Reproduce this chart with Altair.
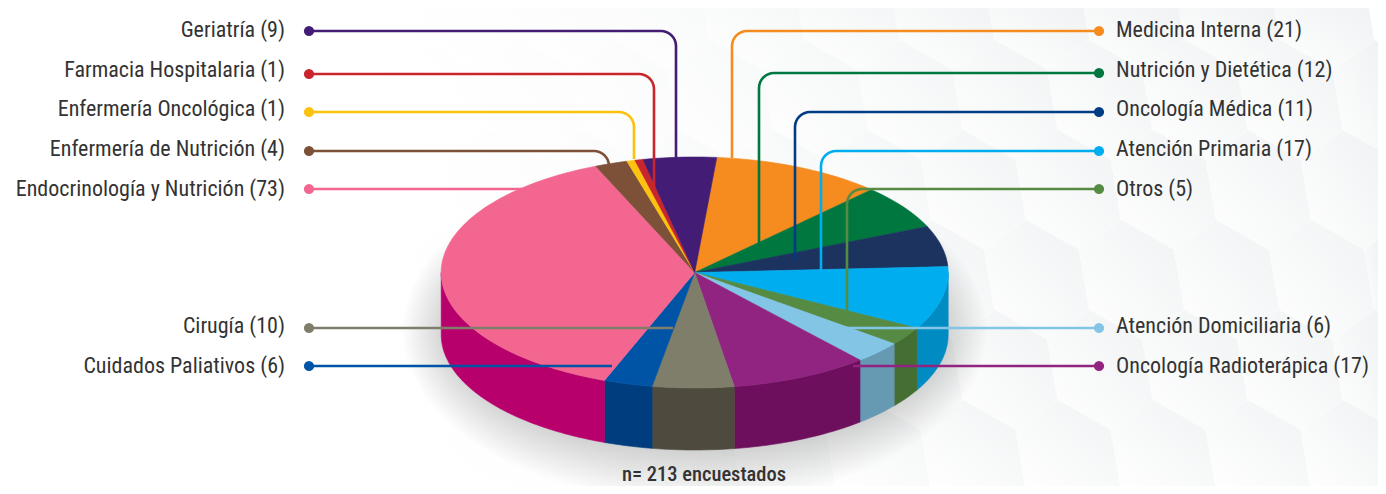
import math
import altair as alt

# ---- chart values, clockwise from the top of the pie
names = ["Medicina Interna", "Nutrición y Dietética", "Oncología Médica", "Atención Primaria", "Otros",
         "Atención Domiciliaria", "Oncología Radioterápica", "Cirugía", "Cuidados Paliativos",
         "Endocrinología y Nutrición", "Enfermería de Nutrición", "Enfermería Oncológica",
         "Farmacia Hospitalaria", "Geriatría"]
counts = [21, 12, 11, 17, 5, 6, 17, 10, 6, 73, 4, 1, 1, 9]
top_colors = ["#f68b1f", "#00773f", "#1c325f", "#00aeef", "#568b44", "#83c5e5", "#912480", "#7f7e6b",
              "#0054a6", "#f26690", "#7c5137", "#fdc20f", "#c9252c", "#421c75"]
wall_colors = ["#b06010", "#005a30", "#14264a", "#008cc2", "#456e33", "#6699b2", "#6e0f5e", "#4e4a3d",
               "#003d7f", "#b8006c", "#5a3a27", "#b98e0a", "#921b20", "#30145a"]
line_colors = ["#f68b1f", "#00773f", "#003d84", "#00aeef", "#568b44", "#83c5e5", "#912480", "#7f7e6b",
               "#0054a6", "#f26690", "#7c5137", "#fdc20f", "#c9252c", "#421c75"]
note = "n= 213 encuestados"

# ---- layout
W, H = 1370, 478
CX, CY, RX, RY, DEPTH = 694.7, 272.5, 253.5, 115.5, 62
START = 5.0
LEFT_X, RIGHT_X = 309, 1099
LEFT_TEXT, RIGHT_TEXT = 285, 1116
FONT = "'Roboto Condensed','Open Sans Condensed','DejaVu Sans Condensed',Roboto"
# name: (row y, text y, elbow x or None, end y or end x)
leaders = {
    "Geriatría": (31, 29, 676, 158), "Farmacia Hospitalaria": (74, 69, 654, 188),
    "Enfermería Oncológica": (112, 108, 634, 159), "Enfermería de Nutrición": (151, 148, 609, 164),
    "Endocrinología y Nutrición": (189, 188, None, 522), "Cirugía": (328, 325, None, 673),
    "Cuidados Paliativos": (366, 365, None, 612), "Medicina Interna": (31, 29, 732, 158),
    "Nutrición y Dietética": (73, 69, 759, 243), "Oncología Médica": (112, 108, 795, 260),
    "Atención Primaria": (151, 148, 821, 270), "Otros": (189, 188, 847, 312),
    "Atención Domiciliaria": (328, 325, None, 843), "Oncología Radioterápica": (366, 365, None, 853),
}
right_side = set(names[:7])


def pt(deg, drop=0.0):
    t = math.radians(deg)
    return [CX + RX * math.sin(t), CY - RY * math.cos(t) + drop]


def clip(ring):
    """Sutherland-Hodgman clip to the canvas frame."""
    x0, y0, x1, y1 = 8, 8, 8 + W, 8 + H
    edges = [(lambda p: p[0] >= x0, 0, x0), (lambda p: p[0] <= x1, 0, x1),
             (lambda p: p[1] >= y0, 1, y0), (lambda p: p[1] <= y1, 1, y1)]
    out = ring
    for inside, ax, val in edges:
        cur, out = out, []
        for i, p in enumerate(cur):
            q = cur[i - 1]
            if inside(p) != inside(q):
                s = (val - q[ax]) / (p[ax] - q[ax])
                out.append([q[0] + s * (p[0] - q[0]), q[1] + s * (p[1] - q[1])])
            if inside(p):
                out.append(p)
        if not out:
            return []
    return out


def feature(ring, fill, stroke=None, op=1.0):
    ring = clip(ring)
    return {"type": "Feature", "geometry": {"type": "Polygon", "coordinates": [ring + [ring[0]]]},
            "properties": {"fill": fill, "stroke": stroke or fill, "op": op}}


# pie geometry derived from the counts
total = sum(counts)
tops, walls = [], []
a = START
for n, c, tc, wc in zip(names, counts, top_colors, wall_colors):
    b = a + c / total * 360
    steps = max(2, int((b - a) / 1.5))
    arc = [a + (b - a) * i / steps for i in range(steps + 1)]
    tops.append(feature([[CX, CY]] + [pt(d) for d in arc], tc))
    lo, hi = max(a, 90), min(b, 270)
    if lo < hi:
        w = [lo + (hi - lo) * i / steps for i in range(steps + 1)]
        walls.append(feature([pt(d) for d in w] + [pt(d, DEPTH) for d in reversed(w)], wc))
    a = b

# soft shadow: stacked translucent ellipses
shadow = []
N_SH = 22
for i in range(N_SH):
    f = i / (N_SH - 1)
    rx, ry = 292 - 42 * f, 172 - 52 * f
    ring = [[CX + rx * math.cos(math.radians(d)), 330 + ry * math.sin(math.radians(d))] for d in range(0, 360, 4)]
    shadow.append(feature(ring, "#4a4a4a", op=0.012))

# faint honeycomb backdrop
hexes = [feature([[8, 8], [8 + W, 8], [8 + W, 8 + H], [8, 8 + H]], "#ffffff", op=0.0)]
HW, PEAK, SIDE, ROW, SK = 95, 30, 60, 90, 0.17
for r in range(-6, 2):
    py = 400 + r * ROW
    for k in range(-16, 6):
        px = 1153 + k * HW + r * 48
        pts = [(px, py), (px + HW / 2, py + PEAK), (px + HW / 2, py + PEAK + SIDE), (px, py + 2 * PEAK + SIDE),
               (px - HW / 2, py + PEAK + SIDE), (px - HW / 2, py + PEAK)]
        ring = clip([[x + (y - 400) * SK, y] for x, y in pts])
        if len(ring) < 3:
            continue
        cx_hex = sum(p[0] for p in ring) / len(ring)
        op = round(min(1.0, max(0.0, (cx_hex - 400) / 600)), 3)
        if op > 0:
            hexes.append(feature(ring, "#ffffff", op=op))

# leader lines
line_rows, dot_rows, text_rows = [], [], []
for n, c, col in zip(names, counts, line_colors):
    y0, ty, ex, end = leaders[n]
    right = n in right_side
    x0 = RIGHT_X if right else LEFT_X
    pts = [(x0, y0)]
    if ex is None:
        pts.append((end, y0))
    else:
        R = 15
        sgn = 1 if right else -1
        cx0, cy0 = ex + sgn * R, y0 + R
        for i in range(9):
            th = math.pi / 2 * i / 8
            pts.append((cx0 - sgn * R * math.sin(th), cy0 - R * math.cos(th)))
        pts.append((ex, end))
    for i, (x, y) in enumerate(pts):
        line_rows.append({"k": n, "i": i, "x": x, "y": y, "c": col})
    dot_rows.append({"x": x0, "y": y0, "c": col})
    text_rows.append({"x": RIGHT_TEXT if right else LEFT_TEXT, "y": ty + 1, "t": f"{n} ({c})",
                      "side": "r" if right else "l"})

xs = alt.Scale(domain=[8, 8 + W], nice=False, zero=False)
ys = alt.Scale(domain=[8 + H, 8], nice=False, zero=False)
X = lambda: alt.X("x:Q", scale=xs, axis=None)
Y = lambda: alt.Y("y:Q", scale=ys, axis=None)
proj = dict(type="identity")


def shapes(feats, **kw):
    return alt.Chart(alt.Data(values=feats)).mark_geoshape(**kw).encode(
        fill=alt.Fill("properties.fill:N", scale=None),
        stroke=alt.Stroke("properties.stroke:N", scale=None),
        opacity=alt.Opacity("properties.op:Q", scale=None),
    ).project(**proj)


hex_layer = alt.Chart(alt.Data(values=hexes)).mark_geoshape(
    fill=alt.Gradient(gradient="linear", x1=0, y1=1, x2=1, y2=0,
                      stops=[alt.GradientStop(offset=0, color="#ffffff"),
                             alt.GradientStop(offset=1, color="#f0f2f3")]),
    strokeWidth=0,
).encode(opacity=alt.Opacity("properties.op:Q", scale=None)).project(**proj)

shadow_layer = shapes(shadow, strokeWidth=0)
wall_layer = shapes(walls, strokeWidth=0.6)
top_layer = shapes(tops, strokeWidth=0.6)

lines = alt.Chart(alt.Data(values=line_rows)).mark_line(strokeWidth=2.6, interpolate="linear").encode(
    x=X(), y=Y(), detail="k:N", order="i:Q", color=alt.Color("c:N", scale=None))
dots = alt.Chart(alt.Data(values=dot_rows)).mark_point(filled=True, size=105, opacity=1).encode(
    x=X(), y=Y(), color=alt.Color("c:N", scale=None))
lefts = alt.Chart(alt.Data(values=[r for r in text_rows if r["side"] == "l"])).mark_text(
    align="right", baseline="middle", font=FONT, fontSize=22, color="#333333").encode(x=X(), y=Y(), text="t:N")
rights = alt.Chart(alt.Data(values=[r for r in text_rows if r["side"] == "r"])).mark_text(
    align="left", baseline="middle", font=FONT, fontSize=22, color="#333333").encode(x=X(), y=Y(), text="t:N")
foot = alt.Chart(alt.Data(values=[{"x": 704, "y": 475, "t": note}])).mark_text(
    align="center", baseline="middle", font=FONT, fontSize=20.5, fontWeight=500, color="#333333").encode(
    x=X(), y=Y(), text="t:N")

chart = alt.layer(hex_layer, shadow_layer, wall_layer, top_layer, lines, dots, lefts, rights, foot).properties(
    width=W, height=H, padding=0, autosize="none", background="#ffffff"
).configure_view(stroke=None)

chart.save("out.html", embed_options={"renderer": "svg", "actions": False})
